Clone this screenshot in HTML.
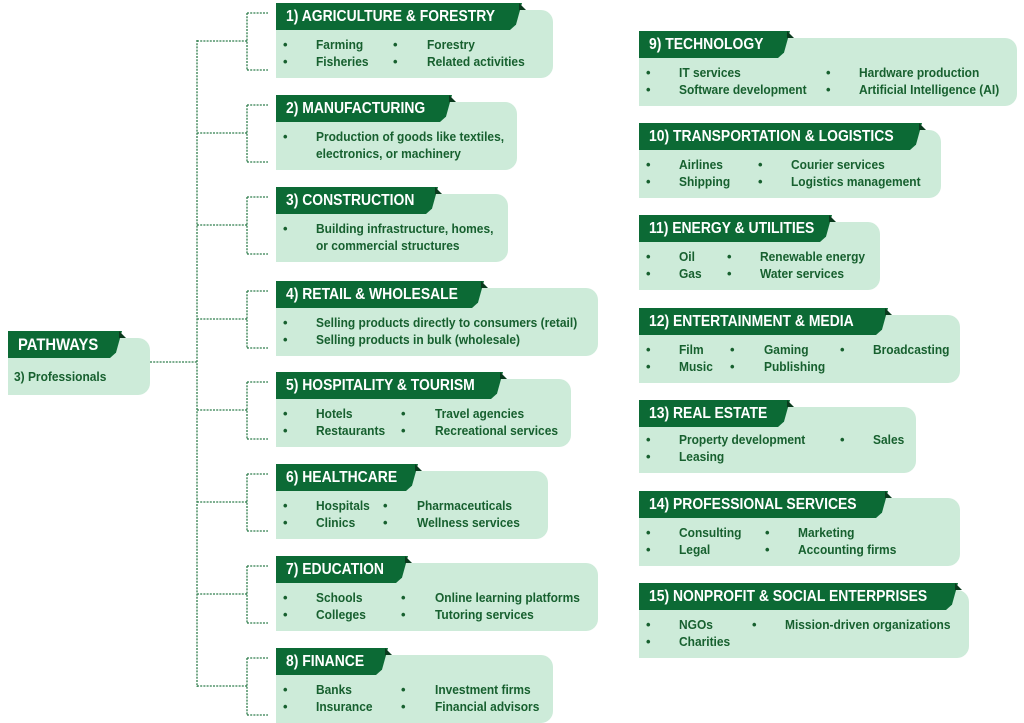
<!DOCTYPE html>
<html><head><meta charset="utf-8"><style>
*{margin:0;padding:0;box-sizing:border-box}
body{width:1024px;height:723px;background:#fff;position:relative;overflow:hidden;font-family:"Liberation Sans",Arial,sans-serif}
.c{position:absolute}
.b{position:absolute;left:0;top:7px;height:68px;background:#cdebd9;border-radius:0 12px 12px 0}
.h{position:absolute;left:0;top:0;height:27px;background:#0c6a35;clip-path:polygon(0 0,100% 0,calc(100% - 6px) 80%,calc(100% - 12px) 100%,0 100%)}
.h span{position:absolute;left:10px;top:0;line-height:27px;color:#fff;font-weight:bold;font-size:16px;white-space:nowrap;transform:scaleX(.87);transform-origin:left center}
.t{position:absolute;top:0;width:0;height:0;border-bottom:7px solid #0a3a1d;border-right:7px solid transparent}
.i{position:absolute;line-height:17px;color:#17602f;font-weight:bold;font-size:13px;white-space:nowrap;transform:scaleX(.92);transform-origin:left center}
.d{position:absolute;line-height:17px;color:#17602f;font-size:13px;font-weight:bold}
</style></head><body>
<svg width="1024" height="723" style="position:absolute;left:0;top:0" fill="none" stroke="#2f7d4c" stroke-width="1.3" stroke-dasharray="2 1.2">
<path d="M150 362H197M197 40V687"/>
<path d="M197 41H247M247 13V70M247 13H268M247 70H268"/>
<path d="M197 133H247M247 105V162M247 105H268M247 162H268"/>
<path d="M197 225H247M247 197V254M247 197H268M247 254H268"/>
<path d="M197 319H247M247 291V348M247 291H268M247 348H268"/>
<path d="M197 410H247M247 382V439M247 382H268M247 439H268"/>
<path d="M197 502H247M247 474V531M247 474H268M247 531H268"/>
<path d="M197 594H247M247 566V623M247 566H268M247 623H268"/>
<path d="M197 686H247M247 658V715M247 658H268M247 715H268"/>
</svg>

<!-- PATHWAYS -->
<div class="c" style="left:8px;top:331px">
<div class="b" style="width:142px;height:57px"></div>
<div class="h" style="width:114px"><span style="font-size:17px">PATHWAYS</span></div><div class="t" style="left:111px"></div>
<span class="i" style="left:6px;top:37px">3) Professionals</span>
</div>

<!-- 1 -->
<div class="c" style="left:276px;top:3px">
<div class="b" style="width:277px"></div>
<div class="h" style="width:246px"><span>1) AGRICULTURE &amp; FORESTRY</span></div><div class="t" style="left:243px"></div>
<span class="d" style="left:7px;top:33px">•</span><span class="i" style="left:40px;top:33px">Farming</span>
<span class="d" style="left:7px;top:50px">•</span><span class="i" style="left:40px;top:50px">Fisheries</span>
<span class="d" style="left:117px;top:33px">•</span><span class="i" style="left:151px;top:33px">Forestry</span>
<span class="d" style="left:117px;top:50px">•</span><span class="i" style="left:151px;top:50px">Related activities</span>
</div>

<!-- 2 -->
<div class="c" style="left:276px;top:95px">
<div class="b" style="width:241px"></div>
<div class="h" style="width:176px"><span>2) MANUFACTURING</span></div><div class="t" style="left:173px"></div>
<span class="d" style="left:7px;top:33px">•</span><span class="i" style="left:40px;top:33px">Production of goods like textiles,</span>
<span class="i" style="left:40px;top:50px">electronics, or machinery</span>
</div>

<!-- 3 -->
<div class="c" style="left:276px;top:187px">
<div class="b" style="width:232px"></div>
<div class="h" style="width:162px"><span>3) CONSTRUCTION</span></div><div class="t" style="left:159px"></div>
<span class="d" style="left:7px;top:33px">•</span><span class="i" style="left:40px;top:33px">Building infrastructure, homes,</span>
<span class="i" style="left:40px;top:50px">or commercial structures</span>
</div>

<!-- 4 -->
<div class="c" style="left:276px;top:281px">
<div class="b" style="width:322px"></div>
<div class="h" style="width:208px"><span>4) RETAIL &amp; WHOLESALE</span></div><div class="t" style="left:205px"></div>
<span class="d" style="left:7px;top:33px">•</span><span class="i" style="left:40px;top:33px">Selling products directly to consumers (retail)</span>
<span class="d" style="left:7px;top:50px">•</span><span class="i" style="left:40px;top:50px">Selling products in bulk (wholesale)</span>
</div>

<!-- 5 -->
<div class="c" style="left:276px;top:372px">
<div class="b" style="width:295px"></div>
<div class="h" style="width:227px"><span>5) HOSPITALITY &amp; TOURISM</span></div><div class="t" style="left:224px"></div>
<span class="d" style="left:7px;top:33px">•</span><span class="i" style="left:40px;top:33px">Hotels</span>
<span class="d" style="left:7px;top:50px">•</span><span class="i" style="left:40px;top:50px">Restaurants</span>
<span class="d" style="left:125px;top:33px">•</span><span class="i" style="left:159px;top:33px">Travel agencies</span>
<span class="d" style="left:125px;top:50px">•</span><span class="i" style="left:159px;top:50px">Recreational services</span>
</div>

<!-- 6 -->
<div class="c" style="left:276px;top:464px">
<div class="b" style="width:272px"></div>
<div class="h" style="width:142px"><span>6) HEALTHCARE</span></div><div class="t" style="left:139px"></div>
<span class="d" style="left:7px;top:33px">•</span><span class="i" style="left:40px;top:33px">Hospitals</span>
<span class="d" style="left:7px;top:50px">•</span><span class="i" style="left:40px;top:50px">Clinics</span>
<span class="d" style="left:107px;top:33px">•</span><span class="i" style="left:141px;top:33px">Pharmaceuticals</span>
<span class="d" style="left:107px;top:50px">•</span><span class="i" style="left:141px;top:50px">Wellness services</span>
</div>

<!-- 7 -->
<div class="c" style="left:276px;top:556px">
<div class="b" style="width:322px"></div>
<div class="h" style="width:132px"><span>7) EDUCATION</span></div><div class="t" style="left:129px"></div>
<span class="d" style="left:7px;top:33px">•</span><span class="i" style="left:40px;top:33px">Schools</span>
<span class="d" style="left:7px;top:50px">•</span><span class="i" style="left:40px;top:50px">Colleges</span>
<span class="d" style="left:125px;top:33px">•</span><span class="i" style="left:159px;top:33px">Online learning platforms</span>
<span class="d" style="left:125px;top:50px">•</span><span class="i" style="left:159px;top:50px">Tutoring services</span>
</div>

<!-- 8 -->
<div class="c" style="left:276px;top:648px">
<div class="b" style="width:277px"></div>
<div class="h" style="width:112px"><span>8) FINANCE</span></div><div class="t" style="left:109px"></div>
<span class="d" style="left:7px;top:33px">•</span><span class="i" style="left:40px;top:33px">Banks</span>
<span class="d" style="left:7px;top:50px">•</span><span class="i" style="left:40px;top:50px">Insurance</span>
<span class="d" style="left:125px;top:33px">•</span><span class="i" style="left:159px;top:33px">Investment firms</span>
<span class="d" style="left:125px;top:50px">•</span><span class="i" style="left:159px;top:50px">Financial advisors</span>
</div>

<!-- 9 -->
<div class="c" style="left:639px;top:31px">
<div class="b" style="width:378px"></div>
<div class="h" style="width:151px"><span>9) TECHNOLOGY</span></div><div class="t" style="left:148px"></div>
<span class="d" style="left:7px;top:33px">•</span><span class="i" style="left:40px;top:33px">IT services</span>
<span class="d" style="left:7px;top:50px">•</span><span class="i" style="left:40px;top:50px">Software development</span>
<span class="d" style="left:187px;top:33px">•</span><span class="i" style="left:220px;top:33px">Hardware production</span>
<span class="d" style="left:187px;top:50px">•</span><span class="i" style="left:220px;top:50px">Artificial Intelligence (AI)</span>
</div>

<!-- 10 -->
<div class="c" style="left:639px;top:123px">
<div class="b" style="width:302px"></div>
<div class="h" style="width:283px"><span>10) TRANSPORTATION &amp; LOGISTICS</span></div><div class="t" style="left:280px"></div>
<span class="d" style="left:7px;top:33px">•</span><span class="i" style="left:40px;top:33px">Airlines</span>
<span class="d" style="left:7px;top:50px">•</span><span class="i" style="left:40px;top:50px">Shipping</span>
<span class="d" style="left:119px;top:33px">•</span><span class="i" style="left:152px;top:33px">Courier services</span>
<span class="d" style="left:119px;top:50px">•</span><span class="i" style="left:152px;top:50px">Logistics management</span>
</div>

<!-- 11 -->
<div class="c" style="left:639px;top:215px">
<div class="b" style="width:241px"></div>
<div class="h" style="width:193px"><span>11) ENERGY &amp; UTILITIES</span></div><div class="t" style="left:190px"></div>
<span class="d" style="left:7px;top:33px">•</span><span class="i" style="left:40px;top:33px">Oil</span>
<span class="d" style="left:7px;top:50px">•</span><span class="i" style="left:40px;top:50px">Gas</span>
<span class="d" style="left:88px;top:33px">•</span><span class="i" style="left:121px;top:33px">Renewable energy</span>
<span class="d" style="left:88px;top:50px">•</span><span class="i" style="left:121px;top:50px">Water services</span>
</div>

<!-- 12 -->
<div class="c" style="left:639px;top:308px">
<div class="b" style="width:321px"></div>
<div class="h" style="width:249px"><span>12) ENTERTAINMENT &amp; MEDIA</span></div><div class="t" style="left:246px"></div>
<span class="d" style="left:7px;top:33px">•</span><span class="i" style="left:40px;top:33px">Film</span>
<span class="d" style="left:7px;top:50px">•</span><span class="i" style="left:40px;top:50px">Music</span>
<span class="d" style="left:91px;top:33px">•</span><span class="i" style="left:125px;top:33px">Gaming</span>
<span class="d" style="left:91px;top:50px">•</span><span class="i" style="left:125px;top:50px">Publishing</span>
<span class="d" style="left:201px;top:33px">•</span><span class="i" style="left:234px;top:33px">Broadcasting</span>
</div>

<!-- 13 -->
<div class="c" style="left:639px;top:400px">
<div class="b" style="width:277px;height:66px"></div>
<div class="h" style="width:151px"><span>13) REAL ESTATE</span></div><div class="t" style="left:148px"></div>
<span class="d" style="left:7px;top:31px">•</span><span class="i" style="left:40px;top:31px">Property development</span>
<span class="d" style="left:7px;top:48px">•</span><span class="i" style="left:40px;top:48px">Leasing</span>
<span class="d" style="left:201px;top:31px">•</span><span class="i" style="left:234px;top:31px">Sales</span>
</div>

<!-- 14 -->
<div class="c" style="left:639px;top:491px">
<div class="b" style="width:321px"></div>
<div class="h" style="width:249px"><span>14) PROFESSIONAL SERVICES</span></div><div class="t" style="left:246px"></div>
<span class="d" style="left:7px;top:33px">•</span><span class="i" style="left:40px;top:33px">Consulting</span>
<span class="d" style="left:7px;top:50px">•</span><span class="i" style="left:40px;top:50px">Legal</span>
<span class="d" style="left:126px;top:33px">•</span><span class="i" style="left:159px;top:33px">Marketing</span>
<span class="d" style="left:126px;top:50px">•</span><span class="i" style="left:159px;top:50px">Accounting firms</span>
</div>

<!-- 15 -->
<div class="c" style="left:639px;top:583px">
<div class="b" style="width:330px"></div>
<div class="h" style="width:319px"><span>15) NONPROFIT &amp; SOCIAL ENTERPRISES</span></div><div class="t" style="left:316px"></div>
<span class="d" style="left:7px;top:33px">•</span><span class="i" style="left:40px;top:33px">NGOs</span>
<span class="d" style="left:7px;top:50px">•</span><span class="i" style="left:40px;top:50px">Charities</span>
<span class="d" style="left:113px;top:33px">•</span><span class="i" style="left:146px;top:33px">Mission-driven organizations</span>
</div>

</body></html>
